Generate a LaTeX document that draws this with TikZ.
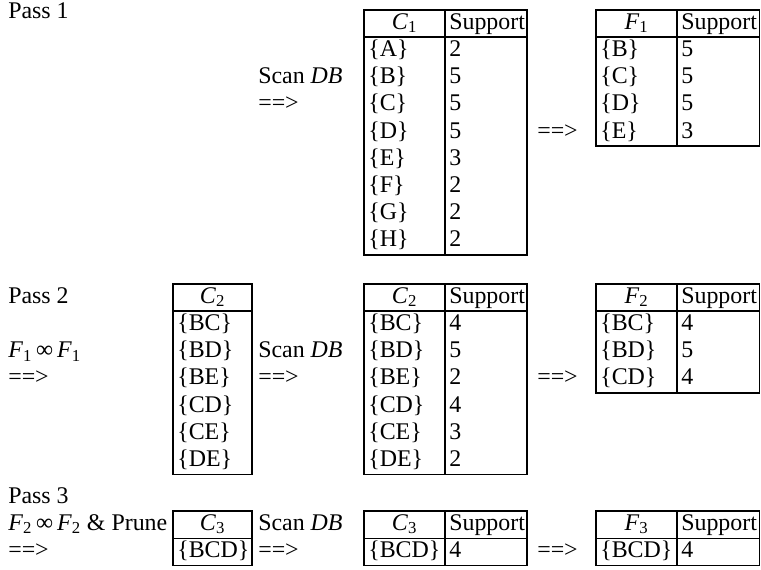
\documentclass[tikz,border=0pt]{standalone}
\usepackage{fontspec}
\setmainfont{Liberation Serif}
\usepackage{tikz}
\newcommand{\setC}[1]{\textit{C}\textsubscript{#1}}
\newcommand{\setF}[1]{\textit{F}\textsubscript{#1}}
\newcommand{\scandb}{Scan \textit{DB}}

\begin{document}
\begin{tikzpicture}[
    font=\fontsize{17}{20}\selectfont,
    tbl/.style={draw=black, line width=1pt},
    txt/.style={anchor=west, inner sep=0pt, text height=1.6ex, text depth=0.45ex, yshift=-0.05cm},
    cell/.style={txt, xshift=0.1cm},
    head/.style={anchor=center, inner sep=0pt, text height=1.6ex, text depth=0.45ex, yshift=-0.05cm},
]
\useasboundingbox (0,0) rectangle (19.025,14.225);

% ===== Pass 1 =====
\node[txt] (passI) at (0.2,13.9) {Pass 1};
\node[txt] (scanI) at (6.45,12.275) {\scandb};
\node[txt] (goI) at (6.45,11.595) {==>};

% C1 with support
\draw[tbl] (9.10,13.975) rectangle (13.175,7.855);
\draw[tbl] (9.10,13.295) -- (13.175,13.295);
\draw[tbl] (11.125,13.975) -- (11.125,7.855);
\node[head] (cIh) at (10.1125,13.635) {\setC{1}};
\node[cell] (cIs) at (11.125,13.635) {Support};
\node[cell] (cIa) at (9.10,12.955) {\{A\}};  \node[cell] (cIan) at (11.125,12.955) {2};
\node[cell] (cIb) at (9.10,12.275) {\{B\}};  \node[cell] (cIbn) at (11.125,12.275) {5};
\node[cell] (cIc) at (9.10,11.595) {\{C\}};  \node[cell] (cIcn) at (11.125,11.595) {5};
\node[cell] (cId) at (9.10,10.915) {\{D\}};  \node[cell] (cIdn) at (11.125,10.915) {5};
\node[cell] (cIe) at (9.10,10.235) {\{E\}};  \node[cell] (cIen) at (11.125,10.235) {3};
\node[cell] (cIf) at (9.10,9.555) {\{F\}};   \node[cell] (cIfn) at (11.125,9.555) {2};
\node[cell] (cIg) at (9.10,8.875) {\{G\}};   \node[cell] (cIgn) at (11.125,8.875) {2};
\node[cell] (cIhh) at (9.10,8.195) {\{H\}};  \node[cell] (cIhn) at (11.125,8.195) {2};

\node[txt] (pruneI) at (13.425,10.915) {==>};

% F1
\draw[tbl] (14.90,13.975) rectangle (18.99,10.575);
\draw[tbl] (14.90,13.295) -- (18.99,13.295);
\draw[tbl] (16.925,13.975) -- (16.925,10.575);
\node[head] (fIh) at (15.9125,13.635) {\setF{1}};
\node[cell] (fIs) at (16.925,13.635) {Support};
\node[cell] (fIb) at (14.90,12.955) {\{B\}};  \node[cell] (fIbn) at (16.925,12.955) {5};
\node[cell] (fIc) at (14.90,12.275) {\{C\}};  \node[cell] (fIcn) at (16.925,12.275) {5};
\node[cell] (fId) at (14.90,11.595) {\{D\}};  \node[cell] (fIdn) at (16.925,11.595) {5};
\node[cell] (fIe) at (14.90,10.915) {\{E\}};  \node[cell] (fIen) at (16.925,10.915) {3};

% ===== Pass 2 =====
\node[txt] (passII) at (0.2,6.785) {Pass 2};
\node[txt] (joinII) at (0.2,5.425) {\setF{1}\,∞\,\setF{1}};
\node[txt] (genII) at (0.2,4.745) {==>};

% C2 candidates
\draw[tbl] (4.325,7.125) rectangle (6.30,2.365);
\draw[tbl] (4.325,6.445) -- (6.30,6.445);
\node[head] (cIIh) at (5.3125,6.785) {\setC{2}};
\node[cell] (cIIbc) at (4.325,6.105) {\{BC\}};
\node[cell] (cIIbd) at (4.325,5.425) {\{BD\}};
\node[cell] (cIIbe) at (4.325,4.745) {\{BE\}};
\node[cell] (cIIcd) at (4.325,4.065) {\{CD\}};
\node[cell] (cIIce) at (4.325,3.385) {\{CE\}};
\node[cell] (cIIde) at (4.325,2.705) {\{DE\}};

\node[txt] (scanII) at (6.45,5.425) {\scandb};
\node[txt] (goII) at (6.45,4.745) {==>};

% C2 with support
\draw[tbl] (9.10,7.125) rectangle (13.175,2.365);
\draw[tbl] (9.10,6.445) -- (13.175,6.445);
\draw[tbl] (11.125,7.125) -- (11.125,2.365);
\node[head] (sIIh) at (10.1125,6.785) {\setC{2}};
\node[cell] (sIIs) at (11.125,6.785) {Support};
\node[cell] (sIIbc) at (9.10,6.105) {\{BC\}};  \node[cell] (sIIbcn) at (11.125,6.105) {4};
\node[cell] (sIIbd) at (9.10,5.425) {\{BD\}};  \node[cell] (sIIbdn) at (11.125,5.425) {5};
\node[cell] (sIIbe) at (9.10,4.745) {\{BE\}};  \node[cell] (sIIben) at (11.125,4.745) {2};
\node[cell] (sIIcd) at (9.10,4.065) {\{CD\}};  \node[cell] (sIIcdn) at (11.125,4.065) {4};
\node[cell] (sIIce) at (9.10,3.385) {\{CE\}};  \node[cell] (sIIcen) at (11.125,3.385) {3};
\node[cell] (sIIde) at (9.10,2.705) {\{DE\}};  \node[cell] (sIIden) at (11.125,2.705) {2};

\node[txt] (pruneII) at (13.425,4.745) {==>};

% F2
\draw[tbl] (14.90,7.125) rectangle (18.99,4.405);
\draw[tbl] (14.90,6.445) -- (18.99,6.445);
\draw[tbl] (16.925,7.125) -- (16.925,4.405);
\node[head] (fIIh) at (15.9125,6.785) {\setF{2}};
\node[cell] (fIIs) at (16.925,6.785) {Support};
\node[cell] (fIIbc) at (14.90,6.105) {\{BC\}};  \node[cell] (fIIbcn) at (16.925,6.105) {4};
\node[cell] (fIIbd) at (14.90,5.425) {\{BD\}};  \node[cell] (fIIbdn) at (16.925,5.425) {5};
\node[cell] (fIIcd) at (14.90,4.745) {\{CD\}};  \node[cell] (fIIcdn) at (16.925,4.745) {4};

% ===== Pass 3 =====
\node[txt] (passIII) at (0.2,1.79) {Pass 3};
\node[txt] (joinIII) at (0.2,1.11) {\setF{2}\,∞\,\setF{2} \& Prune};
\node[txt] (genIII) at (0.2,0.43) {==>};

% C3 candidates
\draw[tbl] (4.325,1.45) rectangle (6.30,0.09);
\draw[tbl] (4.325,0.77) -- (6.30,0.77);
\node[head] (cIIIh) at (5.3125,1.11) {\setC{3}};
\node[cell] (cIIIbcd) at (4.325,0.43) {\{BCD\}};

\node[txt] (scanIII) at (6.45,1.11) {\scandb};
\node[txt] (goIII) at (6.45,0.43) {==>};

% C3 with support
\draw[tbl] (9.10,1.45) rectangle (13.175,0.09);
\draw[tbl] (9.10,0.77) -- (13.175,0.77);
\draw[tbl] (11.125,1.45) -- (11.125,0.09);
\node[head] (sIIIh) at (10.1125,1.11) {\setC{3}};
\node[cell] (sIIIs) at (11.125,1.11) {Support};
\node[cell] (sIIIbcd) at (9.10,0.43) {\{BCD\}};  \node[cell] (sIIIbcdn) at (11.125,0.43) {4};

\node[txt] (pruneIII) at (13.425,0.43) {==>};

% F3
\draw[tbl] (14.90,1.45) rectangle (18.99,0.09);
\draw[tbl] (14.90,0.77) -- (18.99,0.77);
\draw[tbl] (16.925,1.45) -- (16.925,0.09);
\node[head] (fIIIh) at (15.9125,1.11) {\setF{3}};
\node[cell] (fIIIs) at (16.925,1.11) {Support};
\node[cell] (fIIIbcd) at (14.90,0.43) {\{BCD\}};  \node[cell] (fIIIbcdn) at (16.925,0.43) {4};

\end{tikzpicture}
\end{document}
